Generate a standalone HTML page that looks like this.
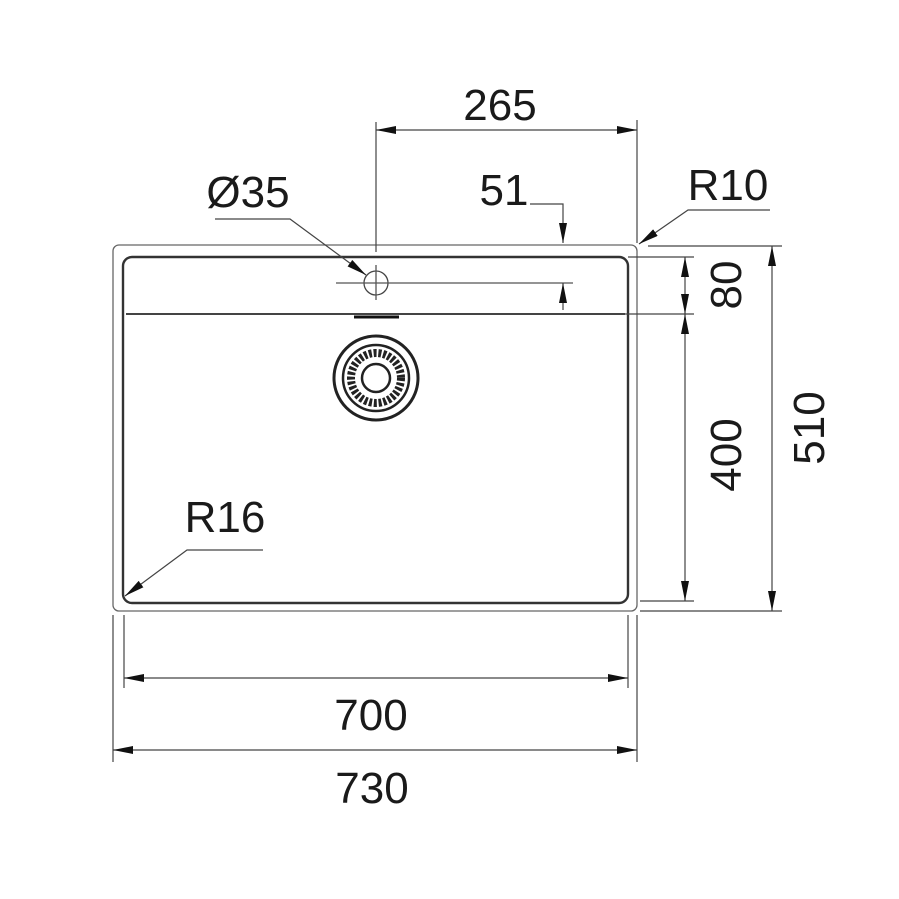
<!DOCTYPE html>
<html><head><meta charset="utf-8"><style>
html,body{margin:0;padding:0;background:#fff;}
svg{display:block}
text{font-family:"Liberation Sans",Arial,sans-serif;fill:#1a1a1a;}
</style></head><body>
<svg width="899" height="899" viewBox="0 0 899 899" xmlns="http://www.w3.org/2000/svg">
<defs>
<marker id="a" viewBox="0 0 20 8" refX="20" refY="4" markerWidth="20" markerHeight="8" markerUnits="userSpaceOnUse" orient="auto-start-reverse">
<path d="M0,0 L20,4 L0,8 Z" fill="#111"/></marker>
</defs>
<g fill="none" stroke="#555" stroke-width="1.3">
<rect x="113" y="245" width="524" height="366" rx="6" stroke="#666"/>
<rect x="123" y="257" width="505" height="346" rx="9" stroke="#333" stroke-width="2.4"/>
<line x1="126" y1="314" x2="625" y2="314" stroke="#444" stroke-width="2"/>
<line x1="354" y1="317" x2="399" y2="317" stroke="#111" stroke-width="3"/>
<circle cx="376" cy="283" r="12" stroke="#444"/>
<line x1="336" y1="283" x2="573" y2="283"/>
<line x1="376" y1="265" x2="376" y2="300"/>
<circle cx="376" cy="378" r="42" stroke="#222" stroke-width="3"/>
<circle cx="376" cy="378" r="33" stroke="#222" stroke-width="2.5"/>
<circle cx="376" cy="378" r="25" stroke="#222" stroke-width="8" stroke-dasharray="3 1.8"/>
<circle cx="376" cy="378" r="14" stroke="#222" stroke-width="2.5"/>
</g>
<g fill="none" stroke="#444" stroke-width="1.2">
<line x1="376" y1="122" x2="376" y2="252"/>
<line x1="637" y1="120" x2="637" y2="243"/>
<line x1="376" y1="130" x2="637" y2="130" marker-start="url(#a)" marker-end="url(#a)"/>
<polyline points="530,204 563,204 563,243" marker-end="url(#a)"/>
<line x1="563" y1="310" x2="563" y2="283" marker-end="url(#a)"/>
<polyline points="770,210 688,210 639,244" marker-end="url(#a)"/>
<polyline points="215,219 290,219 366,275" marker-end="url(#a)"/>
<polyline points="263,550 187,550 125,596" marker-end="url(#a)"/>
<line x1="648" y1="246" x2="782" y2="246"/>
<line x1="628" y1="257" x2="694" y2="257"/>
<line x1="620" y1="314" x2="694" y2="314"/>
<line x1="640" y1="601" x2="694" y2="601"/>
<line x1="640" y1="611" x2="782" y2="611"/>
<line x1="685" y1="257" x2="685" y2="314" marker-start="url(#a)" marker-end="url(#a)"/>
<line x1="685" y1="314" x2="685" y2="601" marker-start="url(#a)" marker-end="url(#a)"/>
<line x1="772" y1="246" x2="772" y2="611" marker-start="url(#a)" marker-end="url(#a)"/>
<line x1="124" y1="615" x2="124" y2="688"/>
<line x1="628" y1="615" x2="628" y2="688"/>
<line x1="113" y1="615" x2="113" y2="762"/>
<line x1="637" y1="615" x2="637" y2="762"/>
<line x1="124" y1="678" x2="628" y2="678" marker-start="url(#a)" marker-end="url(#a)"/>
<line x1="113" y1="750" x2="637" y2="750" marker-start="url(#a)" marker-end="url(#a)"/>
</g>
<g font-size="44">
<text x="500" y="120" text-anchor="middle">265</text>
<text x="504" y="205" text-anchor="middle">51</text>
<text x="728" y="200" text-anchor="middle">R10</text>
<text x="248" y="207" text-anchor="middle">Ø35</text>
<text x="225" y="532" text-anchor="middle">R16</text>
<text x="371" y="730" text-anchor="middle">700</text>
<text x="372" y="803" text-anchor="middle">730</text>
<text transform="translate(741,285) rotate(-90)" text-anchor="middle">80</text>
<text transform="translate(741,455) rotate(-90)" text-anchor="middle">400</text>
<text transform="translate(824,428) rotate(-90)" text-anchor="middle">510</text>
</g>
</svg>
</body></html>
